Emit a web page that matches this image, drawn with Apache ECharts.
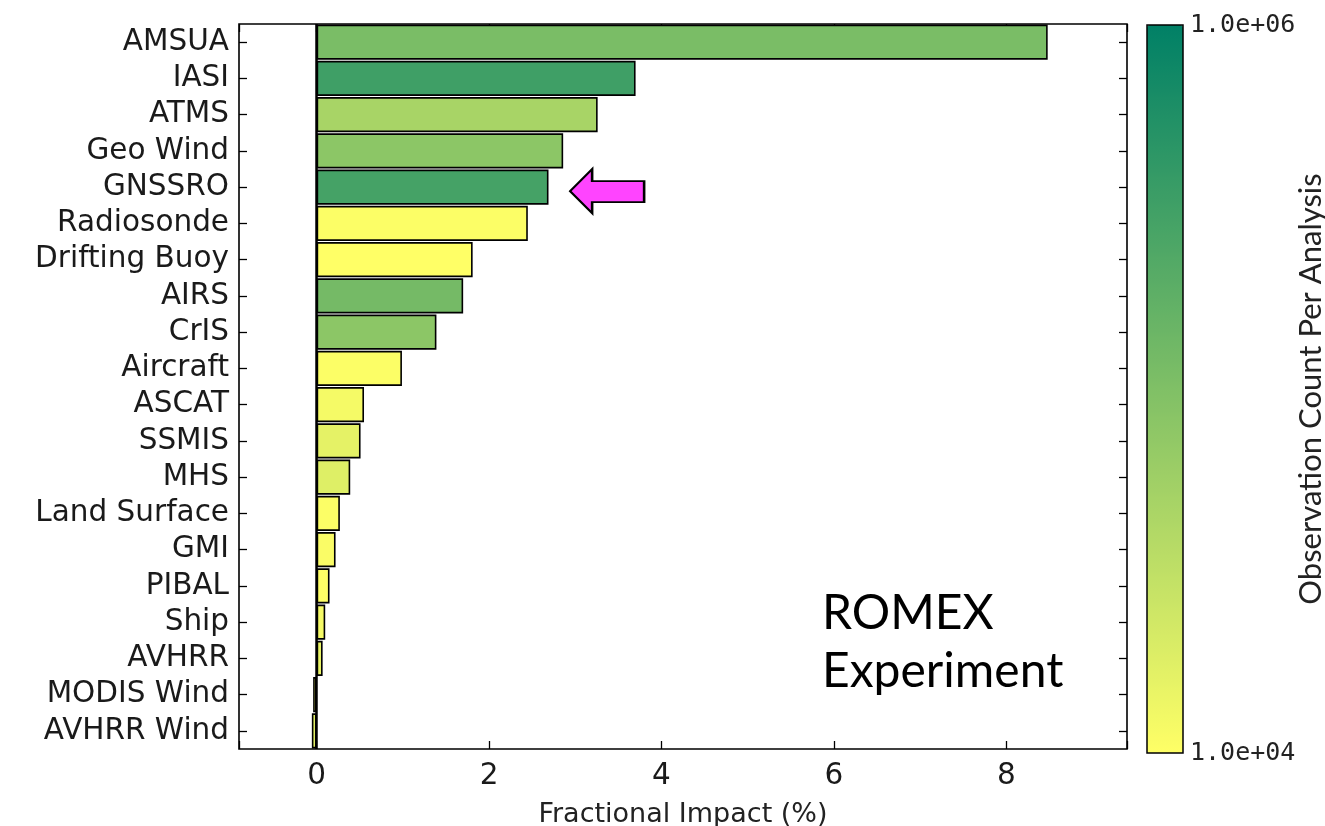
<!DOCTYPE html>
<html><head><meta charset="utf-8">
<script src="https://cdn.jsdelivr.net/npm/echarts@6/dist/echarts.min.js"></script>
<style>html,body{margin:0;padding:0;background:#fff}#c{width:1325px;height:826px}</style>
</head><body><div id="c"></div>
<script>
const categories = ['AMSUA','IASI','ATMS','Geo Wind','GNSSRO','Radiosonde','Drifting Buoy','AIRS','CrIS','Aircraft','ASCAT','SSMIS','MHS','Land Surface','GMI','PIBAL','Ship','AVHRR','MODIS Wind','AVHRR Wind'];
const impact = [8.48,3.70,3.26,2.86,2.69,2.45,1.81,1.70,1.39,0.99,0.55,0.51,0.39,0.27,0.22,0.15,0.10,0.07,-0.04,-0.055];
const obsCount = [1.1e5,3.2e5,4.8e4,8e4,2.9e5,1.05e4,1.0e4,1.2e5,8e4,1.05e4,1.2e4,1.6e4,1.8e4,1.05e4,1.1e4,1.0e4,1.2e4,1.5e4,1.2e4,1.7e4];
const xTicks = [0,2,4,6,8];
const cbarLabels = ['1.0e+04','1.0e+06'];
const arrowAt = [3.37, 'GNSSRO'];

const data = categories.map((c,i)=>[impact[i], i, Math.log10(obsCount[i])]);
const chart = echarts.init(document.getElementById('c'));
const lab = {fontFamily:'DejaVu Sans', fontSize:29.5, color:'#1a1a1a'};
const tick = {show:true, inside:true, length:8, lineStyle:{color:'#000', width:1.3}};
const noLine = {show:false, onZero:false};
chart.setOption({
  backgroundColor:'#fff',
  animation:false,
  title:{text:'ROMEX\nExperiment', left:817, top:580,
    textStyle:{fontFamily:'Lato', fontSize:48, fontWeight:'normal', lineHeight:58, color:'#000'}},
  grid:[
    {left:239, right:198, top:24, bottom:77, show:true, borderColor:'#000', borderWidth:1.6, backgroundColor:'transparent', containLabel:false, outerBoundsMode:'none'},
    {left:1147, top:25, width:36, height:728, show:true, borderColor:'#000', borderWidth:1.5, backgroundColor:'transparent', z:5, containLabel:false, outerBoundsMode:'none'}
  ],
  visualMap:{type:'continuous', show:true, seriesIndex:0, dimension:2, min:4, max:6,
    left:1147, top:25, itemWidth:36, itemHeight:728, padding:0, text:null, calculable:false, hoverLink:false,
    inRange:{color:['#ffff66','#008066']}},
  xAxis:[
    {type:'value', gridIndex:0, min:-0.9, max:9.4, splitNumber:5,
     name:'Fractional Impact (%)', nameLocation:'middle', nameGap:52,
     nameTextStyle:{fontFamily:'DejaVu Sans', fontSize:27, color:'#222'},
     axisLine:noLine, splitLine:{show:false},
     axisTick:tick,
     axisLabel:{...lab, margin:12, formatter:v=> xTicks.includes(v)?String(v):''}},
    {type:'value', gridIndex:0, position:'top', min:-0.9, max:9.4, splitNumber:5,
     axisLine:noLine, splitLine:{show:false}, axisLabel:{show:false},
     axisTick:tick},
    {type:'value', gridIndex:1, show:false, min:0, max:1}
  ],
  yAxis:[
    {type:'category', gridIndex:0, data:categories, inverse:true, position:'left',
     axisLine:noLine, splitLine:{show:false},
     axisTick:{...tick, alignWithLabel:true, interval:0},
     axisLabel:{...lab, margin:10, interval:0}},
    {type:'category', gridIndex:0, data:categories, inverse:true, position:'right',
     axisLine:noLine, splitLine:{show:false}, axisLabel:{show:false},
     axisTick:{...tick, alignWithLabel:true, interval:0}},
    {type:'log', gridIndex:1, position:'right', logBase:10, min:1e4, max:1e6,
     name:'Observation Count Per Analysis', nameLocation:'middle', nameRotate:90, nameGap:112, nameMoveOverlap:false,
     nameTextStyle:{fontFamily:'Lato', fontSize:31, color:'#222'},
     axisLine:noLine, axisTick:{show:false}, splitLine:{show:false},
     axisLabel:{fontFamily:'DejaVu Sans Mono', fontSize:25, color:'#222', margin:7, padding:[4,0,0,0],
       formatter:v=> v===1e4?cbarLabels[0]:(v===1e6?cbarLabels[1]:'')}}
  ],
  series:[{
    type:'bar', xAxisIndex:0, yAxisIndex:0, data:data, barCategoryGap:'3%',
    encode:{x:0, y:1},
    itemStyle:{borderColor:'#000', borderWidth:1.6},
    markLine:{silent:true, symbol:'none', label:{show:false},
      lineStyle:{color:'#000', width:2.5, type:'solid'}, data:[{xAxis:0}]},
    markPoint:{silent:true, label:{show:false},
      data:[{coord:arrowAt, symbol:'path://M0,22 L22,0 L22,12 L74,12 L74,33 L22,33 L22,44 Z',
        symbolSize:[74,44], symbolOffset:[0,4],
        itemStyle:{color:'#ff44ff', borderColor:'#000', borderWidth:2}}]}
  }]
});
</script></body></html>
